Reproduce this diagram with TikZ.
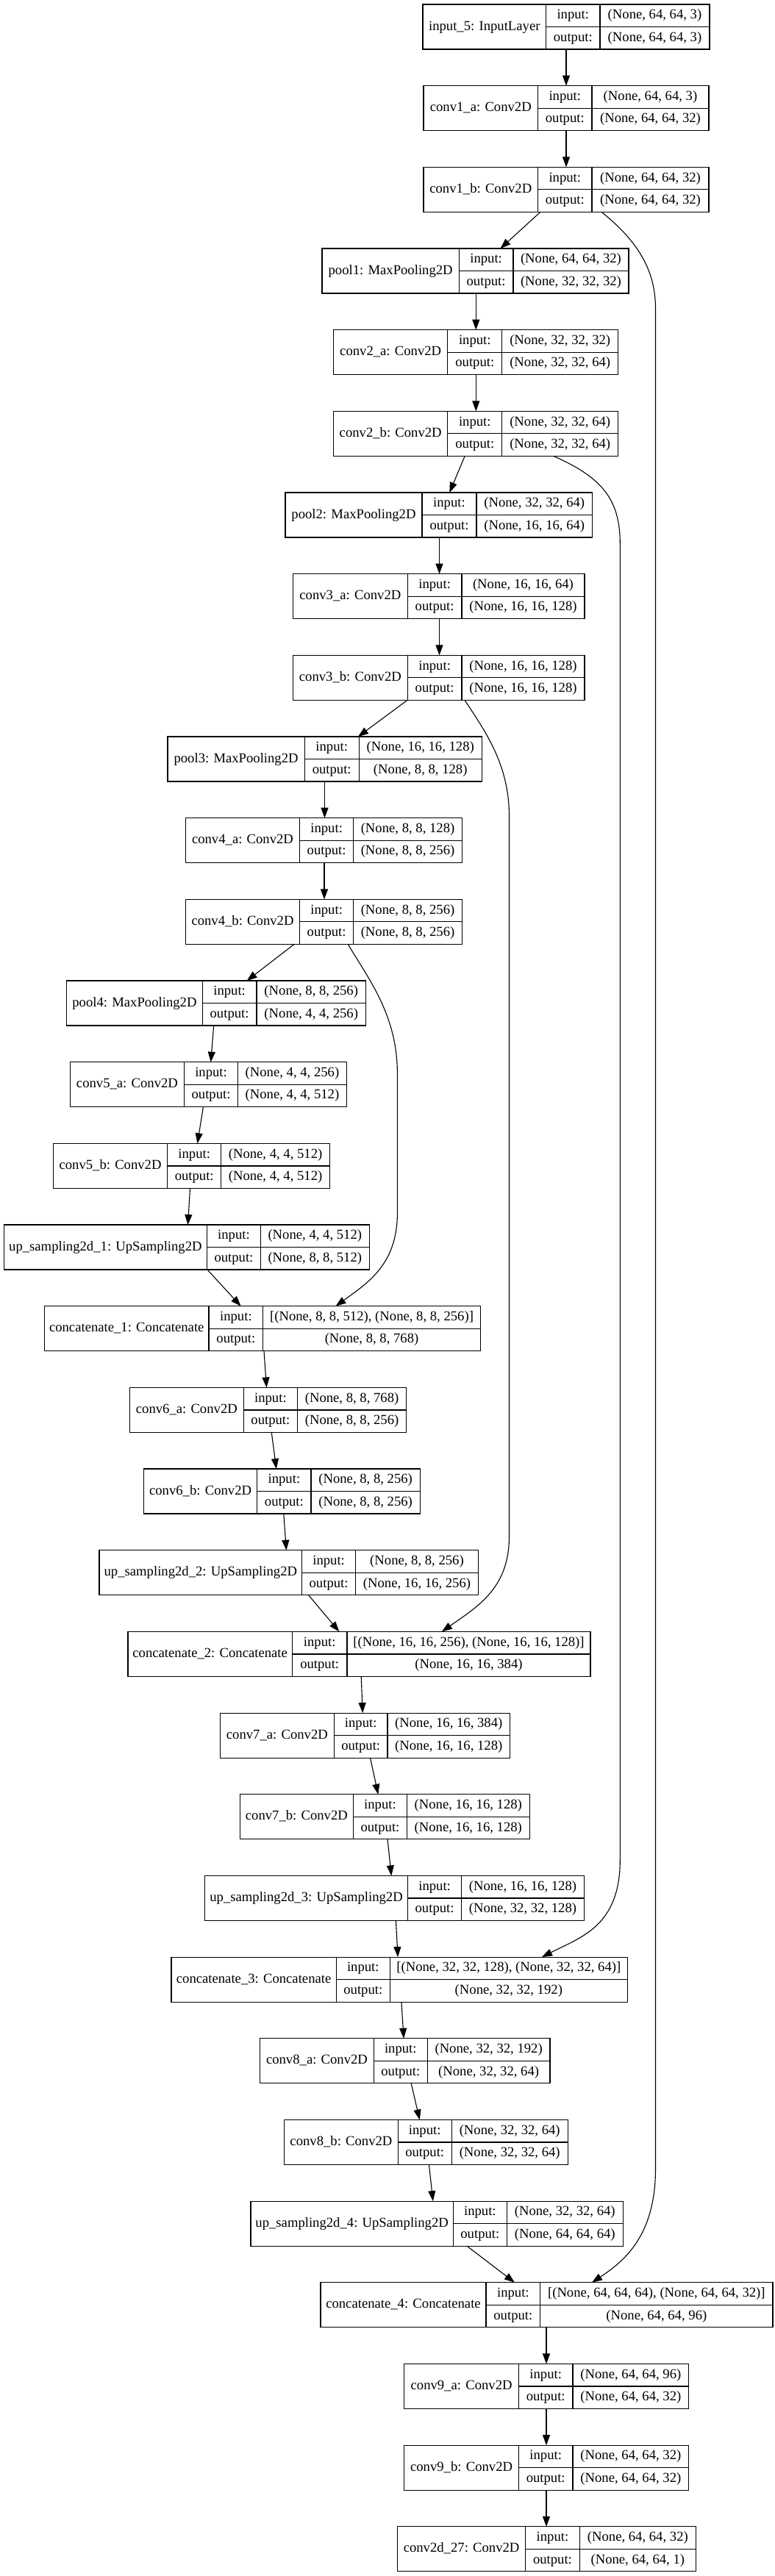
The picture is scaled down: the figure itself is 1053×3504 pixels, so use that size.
\documentclass[tikz,border=0pt]{standalone}
\usepackage{fontspec}
\setmainfont{Liberation Serif}
\usetikzlibrary{arrows.meta,calc}

\tikzset{
  box/.style={draw, line width=1.2pt, fill=white, inner sep=0pt, outer sep=0pt, minimum height=61pt},
  cell/.style={line width=1.2pt},
  txt/.style={inner sep=0pt, font=\fontsize{18.67pt}{22pt}\selectfont, text height=13.5pt, text depth=4.5pt},
  arr/.style={line width=1.1pt, -{Triangle[length=14pt,width=10pt]}},
}

% #1 name, #2 row, #3 left, #4 div1, #5 div2, #6 right, #7 label, #8 input, #9 output
\newcommand{\layer}[9]{%
  \pgfmathsetmacro{\lyT}{6+110.67*#2}%
  \pgfmathsetmacro{\lyB}{\lyT+61}%
  \pgfmathsetmacro{\lyM}{\lyT+30.5}%
  \node[box, minimum width={(#6-#3)*1pt}, anchor=north west] (#1) at (#3,\lyT) {};
  \draw[cell] (#4,\lyT) -- (#4,\lyB) (#5,\lyT) -- (#5,\lyB) (#4,\lyM) -- (#6,\lyM);
  \node[txt] at ({(#3+#4)/2},\lyM) {#7};
  \node[txt] at ({(#4+#5)/2},{\lyT+15.25}) {input:};
  \node[txt] at ({(#4+#5)/2},{\lyT+45.75}) {output:};
  \node[txt] at ({(#5+#6)/2},{\lyT+15.25}) {#8};
  \node[txt] at ({(#5+#6)/2},{\lyT+45.75}) {#9};
}
\newcommand{\edge}[4]{\draw[arr] ($(#1.south -| O)+(#2,0)$) -- ($(#3.north -| O)+(#4,0)$);}

\begin{document}
\begin{tikzpicture}[x=1pt,y=-1pt]
\useasboundingbox (0,0) rectangle (1053,3504);
\fill[white] (0,0) rectangle (1053,3504);
\coordinate (O) at (0,0);

\layer{input5}{0}{575}{742.6}{816}{965}{input\_5: InputLayer}{(None, 64, 64, 3)}{(None, 64, 64, 3)}
\layer{conv1a}{1}{576}{731.6}{805}{964}{conv1\_a: Conv2D}{(None, 64, 64, 3)}{(None, 64, 64, 32)}
\layer{conv1b}{2}{576}{731.6}{805}{964}{conv1\_b: Conv2D}{(None, 64, 64, 32)}{(None, 64, 64, 32)}
\layer{pool1}{3}{438}{624.3}{697.9}{855}{pool1: MaxPooling2D}{(None, 64, 64, 32)}{(None, 32, 32, 32)}
\layer{conv2a}{4}{453.6}{608.8}{682.8}{840.6}{conv2\_a: Conv2D}{(None, 32, 32, 32)}{(None, 32, 32, 64)}
\layer{conv2b}{5}{453.6}{608.8}{682.8}{840.6}{conv2\_b: Conv2D}{(None, 32, 32, 64)}{(None, 32, 32, 64)}
\layer{pool2}{6}{388}{574}{648}{805.5}{pool2: MaxPooling2D}{(None, 32, 32, 64)}{(None, 16, 16, 64)}
\layer{conv3a}{7}{398.5}{554.3}{628}{794.9}{conv3\_a: Conv2D}{(None, 16, 16, 64)}{(None, 16, 16, 128)}
\layer{conv3b}{8}{398.5}{554.3}{628}{794.9}{conv3\_b: Conv2D}{(None, 16, 16, 128)}{(None, 16, 16, 128)}
\layer{pool3}{9}{227.9}{414.3}{488.1}{655.4}{pool3: MaxPooling2D}{(None, 16, 16, 128)}{(None, 8, 8, 128)}
\layer{conv4a}{10}{252.4}{407.6}{480.7}{628.4}{conv4\_a: Conv2D}{(None, 8, 8, 128)}{(None, 8, 8, 256)}
\layer{conv4b}{11}{252.4}{407.6}{480.7}{628.4}{conv4\_b: Conv2D}{(None, 8, 8, 256)}{(None, 8, 8, 256)}
\layer{pool4}{12}{90.7}{275.2}{349}{497.5}{pool4: MaxPooling2D}{(None, 8, 8, 256)}{(None, 4, 4, 256)}
\layer{conv5a}{13}{95.4}{250.5}{323.6}{471.3}{conv5\_a: Conv2D}{(None, 4, 4, 256)}{(None, 4, 4, 512)}
\layer{conv5b}{14}{72.5}{227.6}{300.8}{448.4}{conv5\_b: Conv2D}{(None, 4, 4, 512)}{(None, 4, 4, 512)}
\layer{up1}{15}{5.4}{281.4}{354.5}{502.1}{up\_sampling2d\_1: UpSampling2D}{(None, 4, 4, 512)}{(None, 8, 8, 512)}
\layer{concat1}{16}{60.5}{284}{357.8}{653.3}{concatenate\_1: Concatenate}{[(None, 8, 8, 512), (None, 8, 8, 256)]}{(None, 8, 8, 768)}
\layer{conv6a}{17}{176.6}{331.1}{404.7}{552.5}{conv6\_a: Conv2D}{(None, 8, 8, 768)}{(None, 8, 8, 256)}
\layer{conv6b}{18}{195.4}{349.8}{423}{571.3}{conv6\_b: Conv2D}{(None, 8, 8, 256)}{(None, 8, 8, 256)}
\layer{up2}{19}{134.9}{410.8}{483.4}{650.6}{up\_sampling2d\_2: UpSampling2D}{(None, 8, 8, 256)}{(None, 16, 16, 256)}
\layer{concat2}{20}{173.9}{397.4}{472}{803}{concatenate\_2: Concatenate}{[(None, 16, 16, 256), (None, 16, 16, 128)]}{(None, 16, 16, 384)}
\layer{conv7a}{21}{299.3}{454.4}{527}{693.5}{conv7\_a: Conv2D}{(None, 16, 16, 384)}{(None, 16, 16, 128)}
\layer{conv7b}{22}{326.1}{480.7}{553.2}{720.4}{conv7\_b: Conv2D}{(None, 16, 16, 128)}{(None, 16, 16, 128)}
\layer{up3}{23}{278.6}{554.5}{627.7}{794.2}{up\_sampling2d\_3: UpSampling2D}{(None, 16, 16, 128)}{(None, 32, 32, 128)}
\layer{concat3}{24}{233}{457.2}{530.4}{853.3}{concatenate\_3: Concatenate}{[(None, 32, 32, 128), (None, 32, 32, 64)]}{(None, 32, 32, 192)}
\layer{conv8a}{25}{353.8}{508.2}{581.4}{747.9}{conv8\_a: Conv2D}{(None, 32, 32, 192)}{(None, 32, 32, 64)}
\layer{conv8b}{26}{386.8}{541.1}{614.3}{772.1}{conv8\_b: Conv2D}{(None, 32, 32, 64)}{(None, 32, 32, 64)}
\layer{up4}{27}{341}{616.3}{689.4}{847.1}{up\_sampling2d\_4: UpSampling2D}{(None, 32, 32, 64)}{(None, 64, 64, 64)}
\layer{concat4}{28}{436}{661}{734.7}{1051}{concatenate\_4: Concatenate}{[(None, 64, 64, 64), (None, 64, 64, 32)]}{(None, 64, 64, 96)}
\layer{conv9a}{29}{549.8}{705.4}{779}{936.8}{conv9\_a: Conv2D}{(None, 64, 64, 96)}{(None, 64, 64, 32)}
\layer{conv9b}{30}{549.8}{705.4}{779}{936.8}{conv9\_b: Conv2D}{(None, 64, 64, 32)}{(None, 64, 64, 32)}
\layer{conv2d27}{31}{540.6}{714.6}{788.3}{946.4}{conv2d\_27: Conv2D}{(None, 64, 64, 32)}{(None, 64, 64, 1)}

% main chain
\edge{input5}{770}{conv1a}{770}
\edge{conv1a}{770}{conv1b}{770}
\edge{conv1b}{735}{pool1}{680.5}
\edge{pool1}{647.3}{conv2a}{647.3}
\edge{conv2a}{647.3}{conv2b}{647.3}
\edge{conv2b}{632.2}{pool2}{611.3}
\edge{pool2}{597.5}{conv3a}{597.5}
\edge{conv3a}{597.5}{conv3b}{597.5}
\edge{conv3b}{554}{pool3}{487}
\edge{pool3}{441.5}{conv4a}{441.5}
\edge{conv4a}{441}{conv4b}{441}
\edge{conv4b}{400.1}{pool4}{335.7}
\edge{pool4}{290.7}{conv5a}{286.7}
\edge{conv5a}{276.4}{conv5b}{268.5}
\edge{conv5b}{258.5}{up1}{255.5}
\edge{up1}{282}{concat1}{327.6}
\edge{concat1}{359}{conv6a}{362.5}
\edge{conv6a}{369.3}{conv6b}{375.8}
\edge{conv6b}{385.8}{up2}{389.4}
\edge{up2}{419.6}{concat2}{461.3}
\edge{concat2}{491.2}{conv7a}{493.2}
\edge{conv7a}{503.5}{conv7b}{514.3}
\edge{conv7b}{527}{up3}{532.3}
\edge{up3}{538.4}{concat3}{541.1}
\edge{concat3}{545.9}{conv8a}{549.1}
\edge{conv8a}{559.2}{conv8b}{570.7}
\edge{conv8b}{583.5}{up4}{588.8}
\edge{up4}{635}{concat4}{700}
\edge{concat4}{743}{conv9a}{743}
\edge{conv9a}{743}{conv9b}{743}
\edge{conv9b}{743}{conv2d27}{743}

% skip connections
\draw[arr] ($(conv1b.south -| O)+(818,0)$) .. controls (870,330) and (891.5,370) .. (891.5,420)
  -- (891.5,2950) .. controls (891.5,3040) and (850,3075) .. ($(concat4.north -| O)+(805,0)$);
\draw[arr] ($(conv2b.south -| O)+(752.7,0)$) .. controls (820,650) and (843.3,680) .. (843.3,740)
  -- (843.3,2530) .. controls (843.3,2620) and (790,2635) .. ($(concat3.north -| O)+(737,0)$);
\draw[arr] ($(conv3b.south -| O)+(632,0)$) .. controls (660,995) and (692.5,1040) .. (692.5,1110)
  -- (692.5,2090) .. controls (692.5,2160) and (650,2185) .. ($(concat2.north -| O)+(600.9,0)$);
\draw[arr] ($(conv4b.south -| O)+(473.3,0)$) .. controls (500,1330) and (540.4,1380) .. (540.4,1460)
  -- (540.4,1650) .. controls (540.4,1720) and (500,1745) .. ($(concat1.north -| O)+(456.5,0)$);
\end{tikzpicture}
\end{document}
